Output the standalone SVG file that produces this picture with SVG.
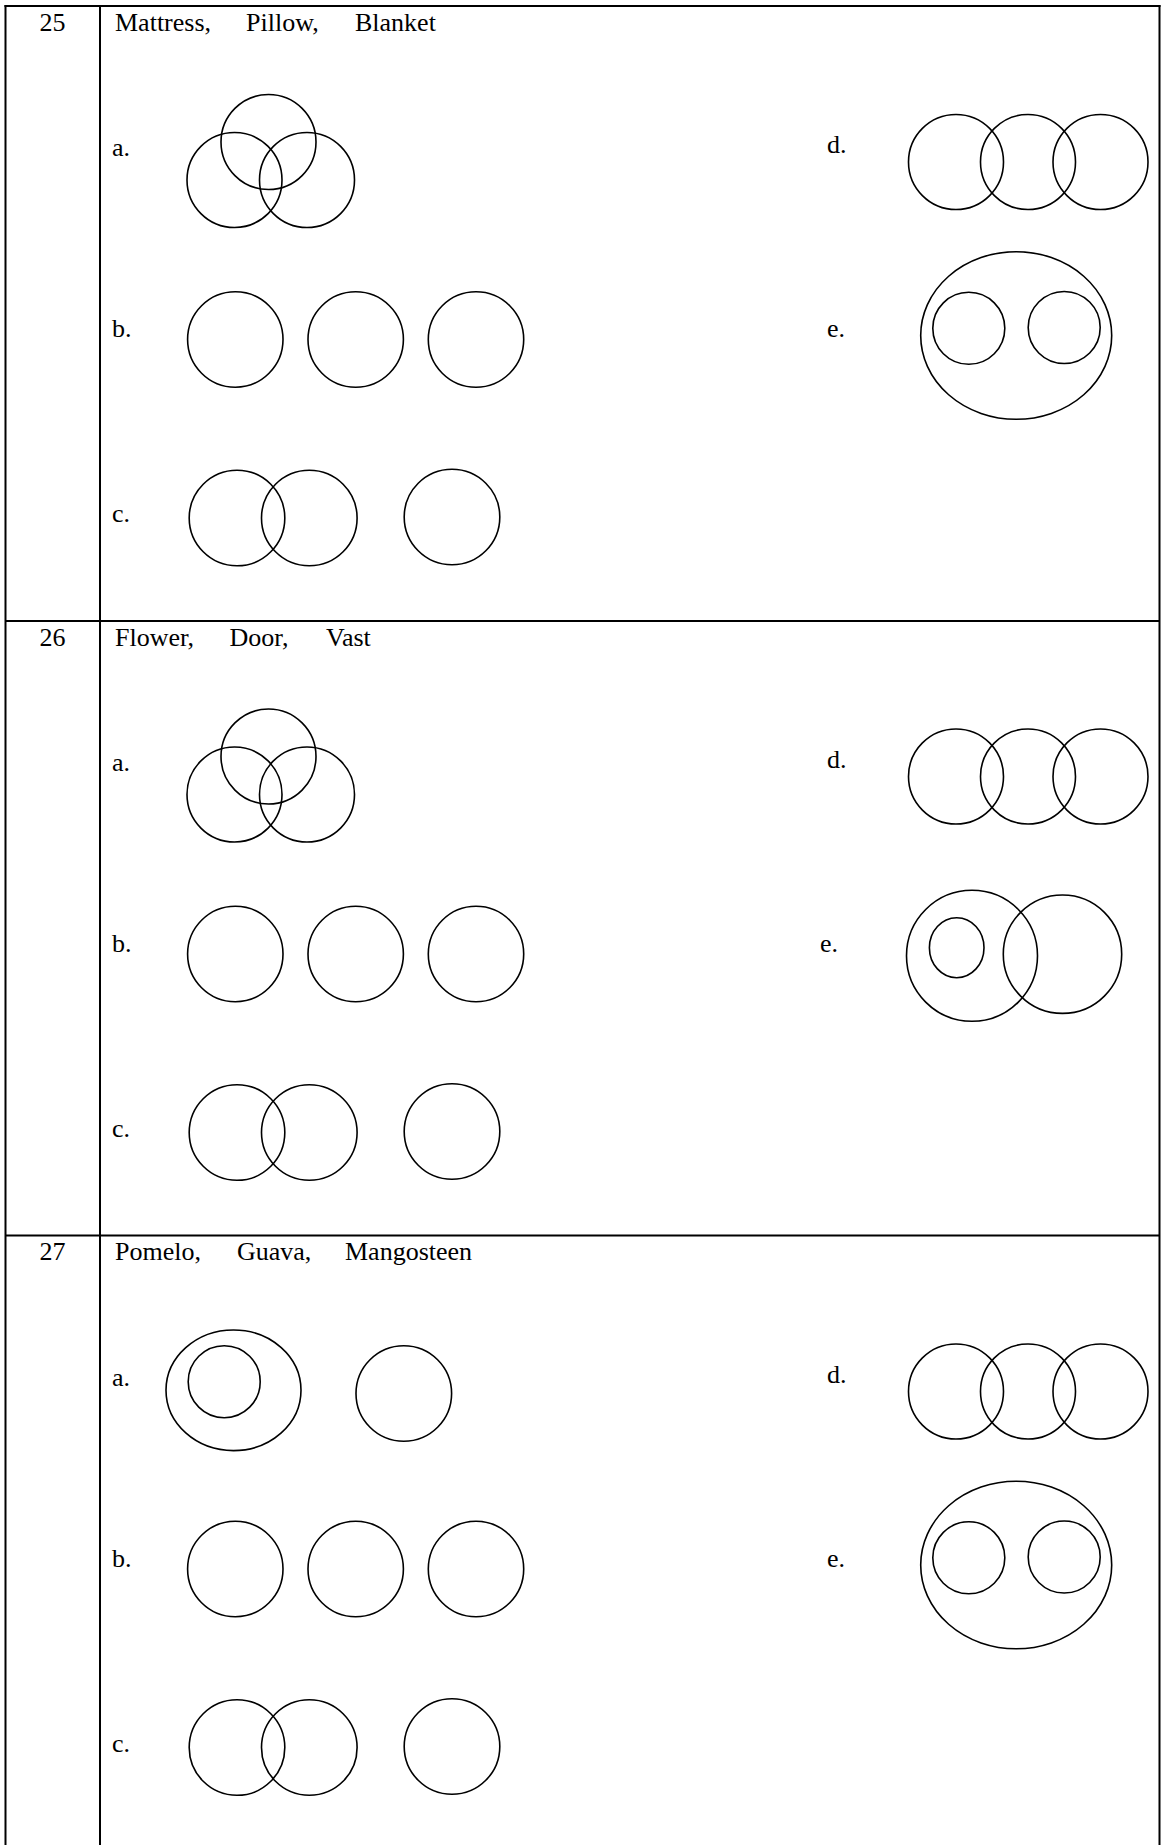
<svg xmlns="http://www.w3.org/2000/svg" width="1163" height="1845" viewBox="0 0 1163 1845">
<style>
.t{font-family:"Liberation Serif","Times New Roman",serif;font-size:26px;fill:#000}
.n{text-anchor:middle}
.c{fill:none;stroke:#000;stroke-width:1.6}
.b{fill:none;stroke:#000;stroke-width:2}
</style>
<rect width="1163" height="1845" fill="#fff"/>
<g id="table">
<line class="b" x1="4.5" y1="6" x2="1160.5" y2="6"/>
<line class="b" x1="5.5" y1="5" x2="5.5" y2="1845"/>
<line class="b" x1="1159.5" y1="5" x2="1159.5" y2="1845"/>
<line class="b" x1="100" y1="6" x2="100" y2="1845"/>
<line class="b" x1="5.5" y1="621" x2="1159.5" y2="621"/>
<line class="b" x1="5.5" y1="1235.5" x2="1159.5" y2="1235.5"/>
</g>
<g id="q25">
<text class="t n" x="52.5" y="31">25</text>
<text class="t" x="115" y="31">Mattress,</text>
<text class="t" x="246" y="31">Pillow,</text>
<text class="t" x="355" y="31">Blanket</text>
<g id="q25a"><text class="t" x="112" y="156">a.</text>
<circle class="c" cx="268.5" cy="142" r="47.5"/><circle class="c" cx="234.5" cy="180" r="47.5"/><circle class="c" cx="307" cy="180" r="47.5"/></g>
<g id="q25b"><text class="t" x="112" y="337">b.</text>
<circle class="c" cx="235.3" cy="339.5" r="47.7"/><circle class="c" cx="355.7" cy="339.5" r="47.7"/><circle class="c" cx="476" cy="339.5" r="47.7"/></g>
<g id="q25c"><text class="t" x="112" y="522">c.</text>
<circle class="c" cx="237" cy="518" r="47.8"/><circle class="c" cx="309.3" cy="518" r="47.8"/><circle class="c" cx="452" cy="517" r="47.8"/></g>
<g id="q25d"><text class="t" x="827" y="153">d.</text>
<circle class="c" cx="956" cy="162" r="47.5"/><circle class="c" cx="1028" cy="162" r="47.5"/><circle class="c" cx="1100.5" cy="162" r="47.5"/></g>
<g id="q25e"><text class="t" x="827" y="337">e.</text>
<ellipse class="c" cx="1016.2" cy="335.5" rx="95.5" ry="83.8"/><circle class="c" cx="968.8" cy="328.3" r="36"/><circle class="c" cx="1064.2" cy="327.5" r="36"/></g>
</g>
<g id="q26">
<text class="t n" x="52.5" y="645.5">26</text>
<text class="t" x="115" y="645.5">Flower,</text>
<text class="t" x="229.5" y="645.5">Door,</text>
<text class="t" x="326" y="645.5">Vast</text>
<g id="q26a"><text class="t" x="112" y="770.5">a.</text>
<circle class="c" cx="268.5" cy="756.5" r="47.5"/><circle class="c" cx="234.5" cy="794.5" r="47.5"/><circle class="c" cx="307" cy="794.5" r="47.5"/></g>
<g id="q26b"><text class="t" x="112" y="951.5">b.</text>
<circle class="c" cx="235.3" cy="954" r="47.7"/><circle class="c" cx="355.7" cy="954" r="47.7"/><circle class="c" cx="476" cy="954" r="47.7"/></g>
<g id="q26c"><text class="t" x="112" y="1136.5">c.</text>
<circle class="c" cx="237" cy="1132.5" r="47.8"/><circle class="c" cx="309.3" cy="1132.5" r="47.8"/><circle class="c" cx="452" cy="1131.5" r="47.8"/></g>
<g id="q26d"><text class="t" x="827" y="767.5">d.</text>
<circle class="c" cx="956" cy="776.5" r="47.5"/><circle class="c" cx="1028" cy="776.5" r="47.5"/><circle class="c" cx="1100.5" cy="776.5" r="47.5"/></g>
<g id="q26e"><text class="t" x="820" y="952">e.</text>
<circle class="c" cx="972" cy="955.8" r="65.5"/><ellipse class="c" cx="956.7" cy="947.7" rx="27.3" ry="30"/><circle class="c" cx="1062.5" cy="954.2" r="59.2"/></g>
</g>
<g id="q27">
<text class="t n" x="52.5" y="1260">27</text>
<text class="t" x="115" y="1260">Pomelo,</text>
<text class="t" x="237" y="1260">Guava,</text>
<text class="t" x="345" y="1260">Mangosteen</text>
<g id="q27a"><text class="t" x="112" y="1385.5">a.</text>
<ellipse class="c" cx="233.5" cy="1390.3" rx="67.5" ry="60.3"/><circle class="c" cx="224.2" cy="1381.7" r="36"/><circle class="c" cx="403.8" cy="1393.5" r="47.8"/></g>
<g id="q27b"><text class="t" x="112" y="1566.5">b.</text>
<circle class="c" cx="235.3" cy="1569" r="47.7"/><circle class="c" cx="355.7" cy="1569" r="47.7"/><circle class="c" cx="476" cy="1569" r="47.7"/></g>
<g id="q27c"><text class="t" x="112" y="1751.5">c.</text>
<circle class="c" cx="237" cy="1747.5" r="47.8"/><circle class="c" cx="309.3" cy="1747.5" r="47.8"/><circle class="c" cx="452" cy="1746.5" r="47.8"/></g>
<g id="q27d"><text class="t" x="827" y="1382.5">d.</text>
<circle class="c" cx="956" cy="1391.5" r="47.5"/><circle class="c" cx="1028" cy="1391.5" r="47.5"/><circle class="c" cx="1100.5" cy="1391.5" r="47.5"/></g>
<g id="q27e"><text class="t" x="827" y="1566.5">e.</text>
<ellipse class="c" cx="1016.2" cy="1565" rx="95.5" ry="83.8"/><circle class="c" cx="968.8" cy="1557.8" r="36"/><circle class="c" cx="1064.2" cy="1557" r="36"/></g>
</g>
</svg>
